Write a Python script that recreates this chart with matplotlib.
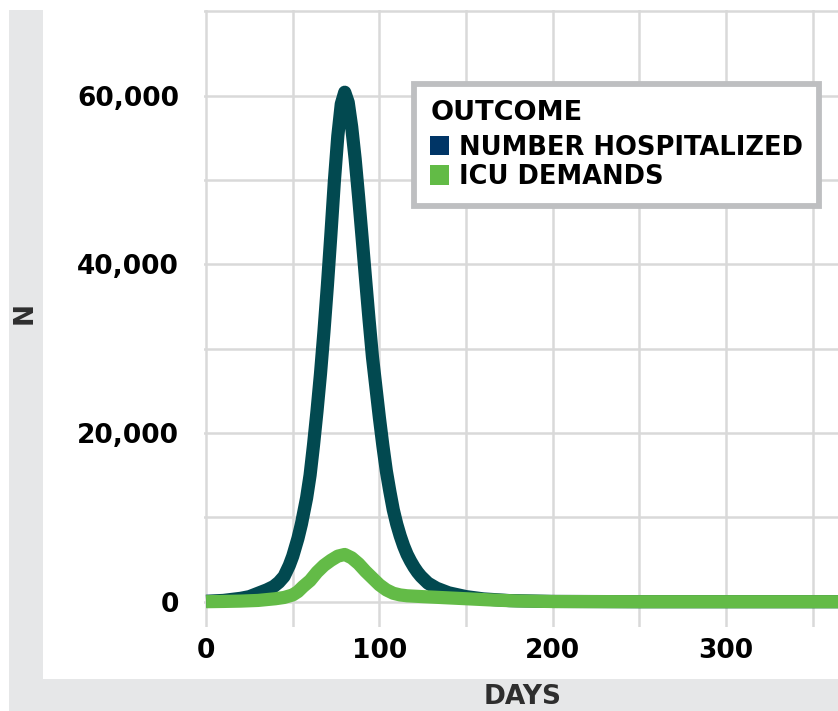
import matplotlib
matplotlib.use("Agg")
import matplotlib.pyplot as plt
from matplotlib.patches import Patch, Rectangle
from matplotlib.ticker import FuncFormatter, FixedLocator

plt.rcParams['font.family'] = ['DejaVu Sans']

# ---- data ----
hosp_days = [0, 10, 20, 25, 30, 35, 39, 42, 45, 48, 50, 53, 55, 58, 60, 62, 64, 66, 68,
             70, 72, 74, 76, 78, 80, 82, 84, 86, 88, 90, 92, 94, 96, 98, 100, 102, 104,
             106, 108, 110, 112, 114, 116, 118, 120, 122, 124, 128, 133, 140, 150, 160,
             175, 200, 250, 367]
hosp_vals = [50, 150, 400, 600, 1000, 1400, 1800, 2300, 3000, 4300, 5400, 7500, 9200,
             12300, 15000, 18600, 22600, 27000, 32000, 37500, 43500, 49800, 55200, 59000,
             60400, 59200, 56300, 52500, 48000, 43200, 38300, 33500, 29000, 25400, 21800,
             18500, 15500, 13100, 10900, 9200, 7800, 6600, 5600, 4800, 4100, 3500, 3000,
             2200, 1600, 1050, 600, 330, 130, 30, 0, 0]

icu_days = [0, 10, 20, 30, 40, 45, 50, 53, 56, 60, 64, 68, 72, 76, 80, 84, 88, 92, 96,
            100, 104, 108, 112, 116, 125, 135, 150, 165, 180, 200, 250, 367]
icu_vals = [0, 30, 70, 150, 350, 500, 800, 1200, 1800, 2500, 3500, 4300, 4900, 5400, 5600,
            5200, 4500, 3600, 2800, 2000, 1400, 1000, 800, 700, 600, 500, 350, 200, 80, 20,
            0, 0]

series_names = ["NUMBER HOSPITALIZED", "ICU DEMANDS"]
legend_title = "OUTCOME"
x_major = [0, 100, 200, 300]
x_minor = [50, 150, 250, 350]
y_major = [0, 20000, 40000, 60000]
y_minor = [10000, 30000, 50000, 70000]

line_colors = ["#024950", "#63BB47"]
legend_colors = ["#003566", "#62BB46"]
grey_bg = "#E6E7E8"
grid_col = "#D9D9D9"

W, H = 838, 711
fig = plt.figure(figsize=(W / 100, H / 100), dpi=100)
fig.patch.set_facecolor("white")

# grey frame strips (left and bottom)
fig.add_artist(Rectangle((9 / W, 0), (43 - 9) / W, (H - 10) / H, transform=fig.transFigure,
                         facecolor=grey_bg, edgecolor="none", zorder=0))
fig.add_artist(Rectangle((9 / W, 0), (W - 9) / W, (H - 679) / H, transform=fig.transFigure,
                         facecolor=grey_bg, edgecolor="none", zorder=0))

ax = fig.add_axes([204 / W, (H - 627) / H, (W - 204) / W, (627 - 10) / H])
ax.set_facecolor("none")

ax.plot(hosp_days, hosp_vals, color=line_colors[0], lw=9.5, solid_capstyle="butt",
        solid_joinstyle="round", zorder=3)
ax.plot(icu_days, icu_vals, color=line_colors[1], lw=9.5, solid_capstyle="butt",
        solid_joinstyle="round", zorder=4)

ax.set_xlim(-1.2, 364.6)
ax.set_ylim(-3000, 70150)

ax.xaxis.set_major_locator(FixedLocator(x_major))
ax.xaxis.set_minor_locator(FixedLocator(x_minor))
ax.yaxis.set_major_locator(FixedLocator(y_major))
ax.yaxis.set_minor_locator(FixedLocator(y_minor))
ax.yaxis.set_major_formatter(FuncFormatter(lambda v, p: f"{v:,.0f}"))
ax.grid(True, which="both", color=grid_col, lw=1.8, zorder=1)
ax.set_axisbelow(True)
for s in ax.spines.values():
    s.set_visible(False)
ax.tick_params(which="both", length=0)
ax.tick_params(axis="x", pad=8, labelsize=19)
ax.tick_params(axis="y", pad=18, labelsize=19)
for lab in ax.get_xticklabels() + ax.get_yticklabels():
    lab.set_fontweight("bold")
    lab.set_color("black")

fig.text(25 / W, 1 - 313 / H, "N", rotation=90, ha="center", va="center",
         fontsize=19, fontweight="bold", color="#2E2E2E")
fig.text(523 / W, 1 - 697 / H, "DAYS", ha="center", va="center",
         fontsize=19, fontweight="bold", color="#2E2E2E")

handles = [Patch(facecolor=c, edgecolor="none") for c in legend_colors]
leg = ax.legend(handles, series_names, title=legend_title, loc="upper left",
                bbox_to_anchor=(414 / W, 1 - 84 / H), bbox_transform=fig.transFigure,
                borderaxespad=0, frameon=True, fancybox=False, framealpha=1,
                edgecolor="#BEBFC1", prop={"weight": "bold", "size": 18.5},
                title_fontproperties={"weight": "bold", "size": 19.5},
                handlelength=0.72, handleheight=0.78, handletextpad=0.38,
                labelspacing=0.13, borderpad=0.64, alignment="left")
leg.get_frame().set_linewidth(4.2)
leg.set_zorder(10)
try:
    leg._legend_box.sep = 0.32 * 18.5
except Exception:
    pass

fig.savefig("out.png", dpi=100, facecolor="white")
